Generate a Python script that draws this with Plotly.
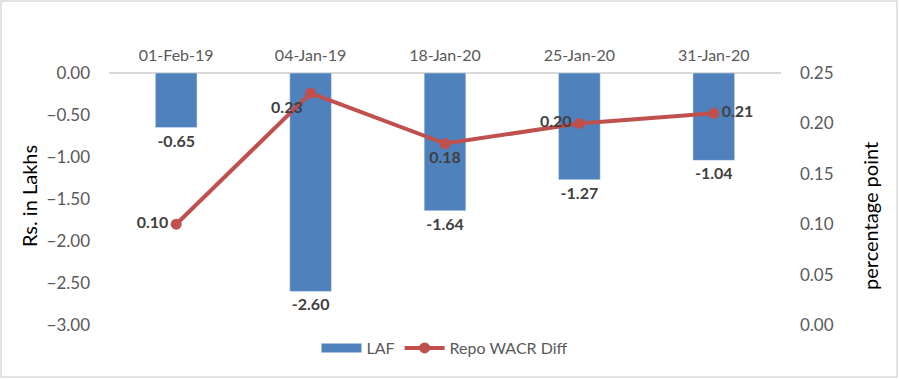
import plotly.graph_objects as go

categories = ["01-Feb-19", "04-Jan-19", "18-Jan-20", "25-Jan-20", "31-Jan-20"]
laf = [-0.65, -2.60, -1.64, -1.27, -1.04]
repo_wacr = [0.10, 0.23, 0.18, 0.20, 0.21]
line_label_pos = ["middle left", "bottom left", "bottom center", "middle left", "middle right"]
left_title = "Rs. in Lakhs"
right_title = "percentage point"

FONT = "Lato, Carlito, 'Open Sans', sans-serif"
GRAY = "#595959"
DARK = "#404040"
BLUE = "#4F81BD"
RED = "#C0504D"

fig = go.Figure()
fig.add_trace(go.Bar(
    x=categories, y=laf, name="LAF", marker_color=BLUE, showlegend=False,
    width=0.31, text=[f"{v:.2f}" for v in laf], textposition="outside",
    textfont=dict(family=FONT, size=16, color=DARK, weight="bold"),
    cliponaxis=False, yaxis="y",
))
# legend entry for LAF drawn as a wide rectangle, as in the reference
fig.add_trace(go.Scatter(
    x=[None], y=[None], name="LAF", mode="lines",
    line=dict(color=BLUE, width=9), yaxis="y",
))
fig.add_trace(go.Scatter(
    x=categories, y=repo_wacr, name="Repo WACR Diff", mode="lines+markers+text",
    line=dict(color=RED, width=4), marker=dict(size=11, color=RED),
    text=[f"{v:.2f}" for v in repo_wacr], textposition=line_label_pos,
    textfont=dict(family=FONT, size=16, color=DARK, weight="bold"),
    cliponaxis=False, yaxis="y2",
))

L, R, T, B = 109, 781, 73, 325
W, H = 899, 379
pw, ph = R - L, B - T


def px_x(x):
    return (x - L) / pw


def px_y(y):
    return (B - y) / ph


fig.update_layout(
    width=W, height=H, autosize=False,
    margin=dict(l=L, r=W - R, t=T, b=H - B, pad=0, autoexpand=False),
    paper_bgcolor="white", plot_bgcolor="white",
    font=dict(family=FONT, size=16, color=GRAY),
    showlegend=True,
    legend=dict(orientation="h", x=0.5, xanchor="center", xref="paper",
                y=1 - 348 / H, yanchor="middle", yref="container",
                font=dict(family=FONT, size=16, color=GRAY), itemwidth=40,
                traceorder="normal"),
    xaxis=dict(side="top", showgrid=False, showline=False, ticks="", automargin=False,
               tickfont=dict(family=FONT, size=16, color=GRAY), ticklabelstandoff=8),
    yaxis=dict(range=[-3, 0], dtick=0.5, tickformat=".2f", showgrid=False, automargin=False,
               zeroline=True, zerolinecolor="#D9D9D9", zerolinewidth=2,
               showline=False, ticks="", ticklabelstandoff=18,
               tickfont=dict(family=FONT, size=17, color=GRAY)),
    yaxis2=dict(range=[0, 0.25], dtick=0.05, tickformat=".2f", overlaying="y", side="right",
                showgrid=False, zeroline=False, showline=False, ticks="", ticklabelstandoff=18,
                automargin=False,
                tickfont=dict(family=FONT, size=17, color=GRAY)),
    annotations=[
        dict(text=left_title, textangle=-90, xref="paper", yref="paper",
             x=px_x(29), y=px_y(196), xanchor="center", yanchor="middle", showarrow=False,
             font=dict(family=FONT, size=20, color="#000000")),
        dict(text=right_title, textangle=-90, xref="paper", yref="paper",
             x=px_x(870), y=px_y(216), xanchor="center", yanchor="middle", showarrow=False,
             font=dict(family=FONT, size=20, color="#000000")),
    ],
    shapes=[dict(type="rect", xref="paper", yref="paper",
                 x0=px_x(1), x1=px_x(W - 2),
                 y0=px_y(H - 2), y1=px_y(1),
                 line=dict(color="#D9D9D9", width=1.5), fillcolor="rgba(0,0,0,0)", layer="below")],
)

fig.write_html("out.html", config={"displayModeBar": False},
               post_script="document.body.style.margin='0';document.body.style.overflow='hidden';"
                           "document.documentElement.style.overflow='hidden';")
